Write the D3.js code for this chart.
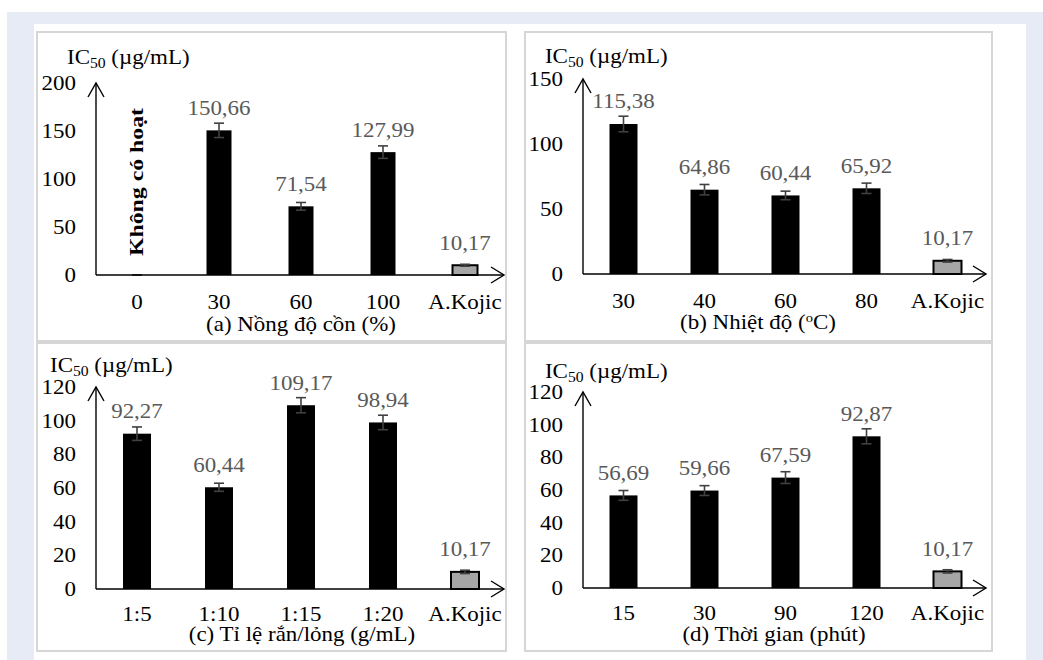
<!DOCTYPE html>
<html>
<head>
<meta charset="utf-8">
<script src="https://cdn.jsdelivr.net/npm/d3@7"></script>
<style>
  body { margin: 0; background: #fff; }
  svg { display: block; }
</style>
</head>
<body>
<svg id="chart" width="1043" height="660" font-family="'Liberation Serif', 'Times New Roman', Tinos, 'DejaVu Serif', serif"></svg>
<script>
// (a) Nồng độ cồn
const catsA = ["0", "30", "60", "100", "A.Kojic"];
const valsA = [0, 150.66, 71.54, 127.99, 10.17];
const errsA = [0, 7.5, 4, 6.5, 1];
const ticksA = [0, 50, 100, 150, 200];

// (b) Nhiệt độ
const catsB = ["30", "40", "60", "80", "A.Kojic"];
const valsB = [115.38, 64.86, 60.44, 65.92, 10.17];
const errsB = [6, 4, 3.3, 4, 1];
const ticksB = [0, 50, 100, 150];

// (c) Tỉ lệ rắn/lỏng
const catsC = ["1:5", "1:10", "1:15", "1:20", "A.Kojic"];
const valsC = [92.27, 60.44, 109.17, 98.94, 10.17];
const errsC = [4, 2.4, 4.5, 4.3, 1];
const ticksC = [0, 20, 40, 60, 80, 100, 120];

// (d) Thời gian
const catsD = ["15", "30", "90", "120", "A.Kojic"];
const valsD = [56.69, 59.66, 67.59, 92.87, 10.17];
const errsD = [3, 3, 3.6, 4.6, 1];
const ticksD = [0, 20, 40, 60, 80, 100, 120];

const FS = 20.5;
const SX = 1.12; // the source picture is a bit wider than tall
const FONT = "'Liberation Serif', 'Times New Roman', Tinos, 'DejaVu Serif', serif";
const svg = d3.select('#chart');

// widen a text around its own x anchor
function stretch(sel) {
    sel.each(function () {
        const x0 = +(this.getAttribute('x') || 0);
        this.setAttribute('transform', `translate(${x0 * (1 - SX)},0) scale(${SX},1)`);
    });
}

// page background + white picture area
svg.append('rect').attr('x', 7).attr('y', 12).attr('width', 1036).attr('height', 648).attr('fill', '#e6ebf5');
svg.append('rect').attr('x', 34).attr('y', 24).attr('width', 992).attr('height', 636).attr('fill', '#fff');

function drawPanel(p) {
    const g = svg.append('g').attr('font-family', FONT);

    // frame
    g.append('rect')
        .attr('x', p.frame[0]).attr('y', p.frame[1])
        .attr('width', p.frame[2] - p.frame[0]).attr('height', p.frame[3] - p.frame[1])
        .attr('fill', 'none').attr('stroke', '#d6d6d6').attr('stroke-width', 2);

    const x = d3.scaleBand().domain(p.cats).range([p.left, p.right]);
    const y = d3.scaleLinear().domain([0, p.yMax]).range([p.bottom, p.top]);

    // tick labels (no tick lines, no domain)
    const ya = g.append('g').attr('transform', `translate(${p.left},0)`)
        .call(d3.axisLeft(y).tickValues(p.ticks).tickSize(0).tickPadding(20));
    const xa = g.append('g').attr('transform', `translate(0,${p.bottom})`)
        .call(d3.axisBottom(x).tickSize(0).tickPadding(p.xPad));
    [ya, xa].forEach(a => {
        a.select('.domain').remove();
        a.attr('font-family', FONT).attr('font-size', FS);
        a.selectAll('text').attr('fill', '#000').call(stretch);
    });

    // bars
    g.selectAll('.bar').data(p.vals).enter().append('rect')
        .attr('x', (d, i) => x(p.cats[i]) + x.bandwidth() / 2 - p.barW / 2)
        .attr('y', d => y(d))
        .attr('width', p.barW)
        .attr('height', d => p.bottom - y(d))
        .attr('fill', (d, i) => p.cats[i] === 'A.Kojic' ? '#a6a6a6' : '#000')
        .attr('stroke', (d, i) => p.cats[i] === 'A.Kojic' ? '#000' : 'none')
        .attr('stroke-width', 2);

    // error bars
    p.vals.forEach((v, i) => {
        const cx = x(p.cats[i]) + x.bandwidth() / 2;
        const e = p.errs[i];
        const eg = g.append('g').attr('stroke', '#404040').attr('stroke-width', 1.6);
        eg.append('line').attr('x1', cx).attr('x2', cx).attr('y1', y(v + e)).attr('y2', y(v - e));
        [v + e, v - e].forEach(t => {
            eg.append('line').attr('x1', cx - 5).attr('x2', cx + 5).attr('y1', y(t)).attr('y2', y(t));
        });
    });

    // value labels
    p.vals.forEach((v, i) => {
        if (v <= 0) return;
        g.append('text')
            .attr('x', x(p.cats[i]) + x.bandwidth() / 2)
            .attr('y', y(v) - 15.5)
            .attr('text-anchor', 'middle')
            .attr('font-size', FS)
            .attr('fill', '#595959')
            .text(v.toFixed(2).replace('.', ','))
            .call(stretch);
    });

    // axes with open arrowheads
    const ax = g.append('g').attr('stroke', '#000').attr('stroke-width', 1.4).attr('fill', 'none');
    const xEnd = p.right - 2;
    ax.append('path').attr('d', `M${p.left},${p.bottom}H${xEnd}`);
    ax.append('path').attr('d', `M${p.left},${p.bottom}V${p.top}`);
    ax.append('path').attr('d', `M${p.left - 8},${p.top + 14}L${p.left},${p.top}L${p.left + 8},${p.top + 14}`);
    ax.append('path').attr('d', `M${xEnd - 13},${p.bottom - 8}L${xEnd},${p.bottom}L${xEnd - 13},${p.bottom + 8}`);

    // y title IC50 (µg/mL)
    const yt = g.append('text').attr('x', p.icX).attr('y', p.icY).attr('font-size', FS);
    yt.append('tspan').text('IC');
    yt.append('tspan').attr('font-size', 14).attr('dy', 4).text('50');
    yt.append('tspan').attr('dy', -4).text(' (µg/mL)');
    yt.call(stretch);

    // x title
    const xt = g.append('text').attr('x', p.titleX).attr('y', p.titleY)
        .attr('text-anchor', 'middle').attr('font-size', FS);
    p.title.forEach(part => {
        const s = xt.append('tspan').text(part.t);
        if (part.sup) s.attr('font-size', 13).attr('dy', -7);
        if (part.after) s.attr('dy', 7);
    });
    xt.call(stretch);
    return { g, x, y };
}

const pa = drawPanel({
    cats: catsA, vals: valsA, errs: errsA, ticks: ticksA, yMax: 200,
    frame: [37, 32, 506, 341], left: 96, right: 506, bottom: 275, top: 83, barW: 25, xPad: 19,
    icX: 67, icY: 64, titleX: 301, titleY: 331,
    title: [{ t: '(a) Nồng độ cồn (%)' }]
});
drawPanel({
    cats: catsB, vals: valsB, errs: errsB, ticks: ticksB, yMax: 150,
    frame: [525, 32, 992, 341], left: 583, right: 988, bottom: 274, top: 79, barW: 28, xPad: 19,
    icX: 545, icY: 63, titleX: 758, titleY: 329,
    title: [{ t: '(b) Nhiệt độ (' }, { t: 'o', sup: true }, { t: 'C)', after: true }]
});
drawPanel({
    cats: catsC, vals: valsC, errs: errsC, ticks: ticksC, yMax: 120,
    frame: [37, 343, 506, 651], left: 96, right: 506, bottom: 589, top: 387, barW: 28, xPad: 17,
    icX: 50, icY: 372, titleX: 302, titleY: 641,
    title: [{ t: '(c) Tỉ lệ rắn/lỏng (g/mL)' }]
});
drawPanel({
    cats: catsD, vals: valsD, errs: errsD, ticks: ticksD, yMax: 120,
    frame: [525, 343, 992, 651], left: 583, right: 988, bottom: 588, top: 392, barW: 28, xPad: 17,
    icX: 545, icY: 378, titleX: 774, titleY: 641,
    title: [{ t: '(d) Thời gian (phút)' }]
});

// note over the empty "0" column of panel (a)
const cx0 = pa.x('0') + pa.x.bandwidth() / 2;
pa.g.append('text')
    .attr('transform', `translate(${cx0 + 6},182) rotate(-90)`)
    .attr('text-anchor', 'middle')
    .attr('font-size', 19).attr('font-weight', 'bold')
    .attr('textLength', 148).attr('lengthAdjust', 'spacingAndGlyphs')
    .text('Không có hoạt');
</script>
</body>
</html>
